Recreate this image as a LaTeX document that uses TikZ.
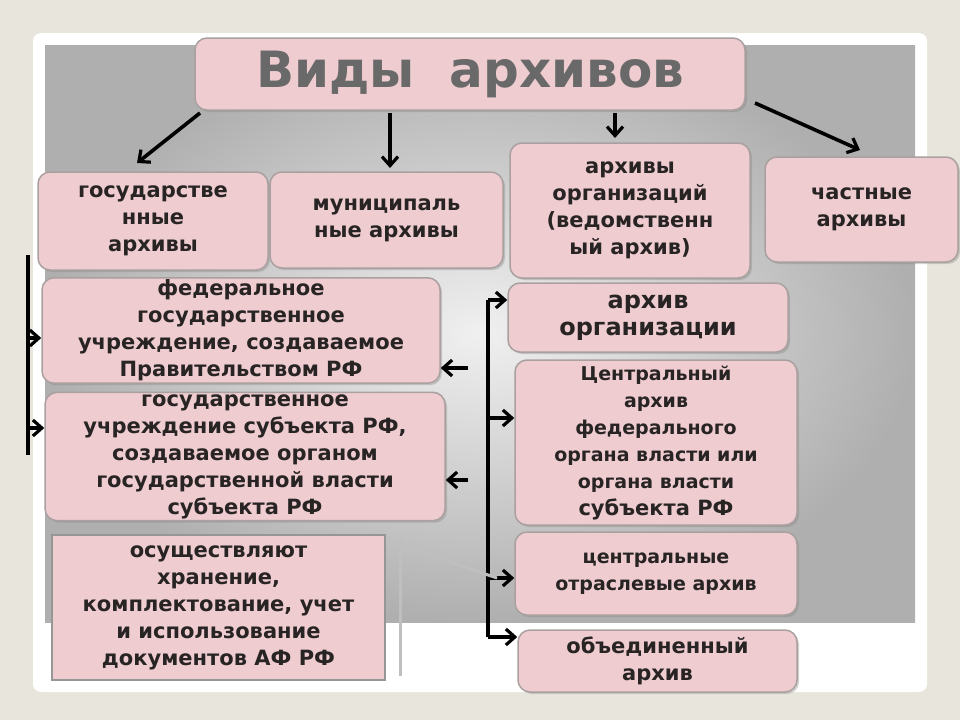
\documentclass[tikz,border=0pt]{standalone}
\usepackage{fontspec}
\setmainfont{DejaVu Sans}
\usetikzlibrary{shadows,arrows.meta}
\definecolor{pinkbox}{RGB}{238,204,208}
\definecolor{txt}{RGB}{40,36,36}
\definecolor{bgout}{RGB}{232,230,220}
\tikzset{
 pbox/.style={draw={rgb,255:red,170;green,160;blue,160}, line width=1.5pt, fill=pinkbox, rounded corners=12pt, align=center, text=txt, font=\bfseries\fontsize{21}{27}\selectfont, inner sep=2pt, drop shadow={shadow xshift=2pt,shadow yshift=-2pt,opacity=0.35}},
 arr/.style={line width=3.6pt, -{Straight Barb[length=9pt,width=16pt,line width=3.2pt]}},
 brk/.style={line width=3.6pt},
}
\newcommand{\bx}[6]{\node[pbox, minimum width=#4-#2, minimum height=#5-#3] (#1) at ({(#2+#4)/2},{(#3+#5)/2}) {#6};}
\begin{document}
\begin{tikzpicture}[x=1pt,y=-1pt]
\useasboundingbox (0,0) rectangle (960,720);
\fill[bgout] (0,0) rectangle (960,720);
\fill[white, rounded corners=8pt] (33,33) rectangle (927,692);
\shade[inner color={rgb,255:red,240;green,240;blue,240}, outer color={rgb,255:red,175;green,175;blue,175}] (45,45) rectangle (915,622);
% title
\node[pbox, minimum width=550, minimum height=72, font=\bfseries\fontsize{50}{54}\selectfont, text={rgb,255:red,105;green,105;blue,105}] (title) at (470,74) {Виды\ \ архивов};
\bx{gos}{38}{172}{268}{270}{государстве\\нные\\архивы}
\bx{mun}{270}{172}{503}{268}{муниципаль\\ные архивы}
\bx{org}{510}{143}{750}{278}{архивы\\организаций\\(ведомственн\\ый архив)}
\bx{chast}{765}{157}{958}{262}{частные\\архивы}
\bx{fed}{42}{278}{440}{383}{федеральное\\государственное\\учреждение, создаваемое\\Правительством РФ}
\bx{subj}{45}{395}{445}{518}{государственное\\учреждение субъекта РФ,\\создаваемое органом\\государственной власти\\субъекта РФ}
\node[draw={rgb,255:red,150;green,150;blue,150}, line width=2pt, fill=pinkbox, align=center, text=txt, font=\bfseries\fontsize{21}{27}\selectfont, minimum width=333, minimum height=145] (osu) at (218.5,607.5) {осуществляют\\хранение,\\комплектование, учет\\и использование\\документов АФ РФ};
\bx{ao}{508}{283}{788}{352}{\fontsize{24}{31}\selectfont архив\\\fontsize{24}{31}\selectfont организации}
\bx{cen}{515}{360}{797}{525}{\fontsize{19}{25}\selectfont Центральный\\\fontsize{19}{25}\selectfont архив\\\fontsize{19}{25}\selectfont федерального\\\fontsize{19}{25}\selectfont органа власти или\\\fontsize{19}{25}\selectfont органа власти\\субъекта РФ}
\bx{otr}{515}{532}{797}{615}{\fontsize{19}{25}\selectfont центральные\\\fontsize{19}{25}\selectfont отраслевые архив}
\bx{obe}{518}{630}{797}{692}{объединенный\\архив}
% arrows from title
\draw[arr] (200,113) -- (137,163);
\draw[arr] (390,113) -- (390,168);
\draw[arr] (615,113) -- (615,138);
\draw[arr] (755,103) -- (860,150);
% left bracket
\draw[brk] (28,255) -- (28,455);
\draw[arr] (28,338) -- (fed.west|-0,338);
\draw[arr] (28,428) -- (subj.west|-0,428);
% right bracket
\coordinate (rt) at (488,300);
\coordinate (rb) at (488,637);
\draw[brk] (rt) -- (rb);
\draw[arr] (rt) -- (ao.west|-rt);
\draw[arr] (488,418) -- (cen.west|-0,418);
\draw[arr] (488,578) -- (otr.west|-0,578);
\draw[arr] (rb) -- (obe.west|-rb);
\draw[arr] (468,368) -- (fed.east|-0,368);
\draw[arr] (468,480) -- (subj.east|-0,480);
% gray lines
\draw[gray!50, line width=3pt] (400,535) -- (400,676);
\draw[gray!50, line width=3pt] (400,545) -- (497,578);
\end{tikzpicture}
\end{document}
